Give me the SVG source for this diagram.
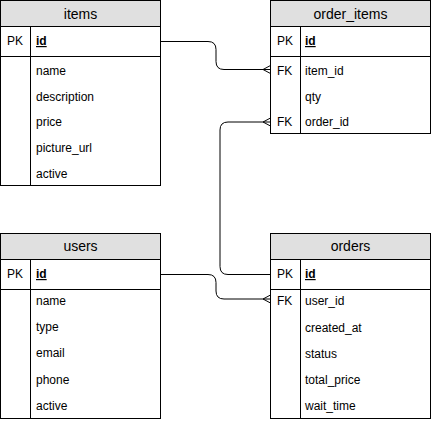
<svg xmlns="http://www.w3.org/2000/svg" width="431" height="423" viewBox="0 0 431 423">
<style>
.tbl{fill:#fff;stroke:#000;stroke-width:1}
.hdr{fill:#e0e0e0;stroke:#000;stroke-width:1}
.ln{stroke:#000;stroke-width:1;fill:none}
text{font-family:"Liberation Sans",Arial,Helvetica,sans-serif;font-size:12px;fill:#000}
.title{font-size:14px;text-anchor:middle}
.pk{font-weight:bold;text-decoration:underline}
.conn{stroke:#000;stroke-width:1;fill:none}
</style>
<rect width="431" height="423" fill="#fff"/>
<g id="items">
<rect class="tbl" x="0.5" y="0.5" width="160" height="185"/>
<rect class="hdr" x="0.5" y="0.5" width="160" height="26"/>
<line class="ln" x1="0.5" y1="56.5" x2="160.5" y2="56.5"/>
<line class="ln" x1="30.5" y1="26.5" x2="30.5" y2="185.5"/>
<text class="title" x="80.5" y="19">items</text>
<text x="7" y="45">PK</text>
<text x="36" y="45" class="pk">id</text>
<text x="36" y="75">name</text>
<text x="36" y="101">description</text>
<text x="36" y="126">price</text>
<text x="36" y="152">picture_url</text>
<text x="36" y="178">active</text>
</g>
<g id="order_items">
<rect class="tbl" x="270.5" y="0.5" width="160" height="133"/>
<rect class="hdr" x="270.5" y="0.5" width="160" height="26"/>
<line class="ln" x1="270.5" y1="56.5" x2="430.5" y2="56.5"/>
<line class="ln" x1="300.5" y1="26.5" x2="300.5" y2="133.5"/>
<text class="title" x="350.5" y="19">order_items</text>
<text x="277" y="45">PK</text>
<text x="305" y="45" class="pk">id</text>
<text x="277" y="75">FK</text>
<text x="305" y="75">item_id</text>
<text x="305" y="101">qty</text>
<text x="277" y="126">FK</text>
<text x="305" y="126">order_id</text>
</g>
<g id="users">
<rect class="tbl" x="0.5" y="233.5" width="160" height="185"/>
<rect class="hdr" x="0.5" y="233.5" width="160" height="26"/>
<line class="ln" x1="0.5" y1="289.5" x2="160.5" y2="289.5"/>
<line class="ln" x1="30.5" y1="259.5" x2="30.5" y2="418.5"/>
<text class="title" x="80.5" y="251">users</text>
<text x="7" y="278">PK</text>
<text x="36" y="278" class="pk">id</text>
<text x="36" y="305">name</text>
<text x="36" y="331">type</text>
<text x="36" y="357">email</text>
<text x="36" y="384">phone</text>
<text x="36" y="410">active</text>
</g>
<g id="orders">
<rect class="tbl" x="270.5" y="233.5" width="160" height="185"/>
<rect class="hdr" x="270.5" y="233.5" width="160" height="26"/>
<line class="ln" x1="270.5" y1="289.5" x2="430.5" y2="289.5"/>
<line class="ln" x1="300.5" y1="259.5" x2="300.5" y2="418.5"/>
<text class="title" x="350.5" y="251">orders</text>
<text x="277" y="278">PK</text>
<text x="305" y="278" class="pk">id</text>
<text x="277" y="305">FK</text>
<text x="305" y="305">user_id</text>
<text x="305" y="332">created_at</text>
<text x="305" y="358">status</text>
<text x="305" y="384">total_price</text>
<text x="305" y="410">wait_time</text>
</g>
<g id="connectors">
<path class="conn" d="M160.5 41.5 H208 Q216 41.5 216 49.5 V61.5 Q216 69.5 224 69.5 H270.5"/>
<path class="conn" d="M263 69.5 L270.5 65.5 M263 69.5 L270.5 73.5"/>
<path class="conn" d="M270.5 274.5 H228 Q220 274.5 220 266.5 V130 Q220 122 228 122 H270.5"/>
<path class="conn" d="M263 122 L270.5 118 M263 122 L270.5 126"/>
<path class="conn" d="M160.5 274.5 H208 Q216 274.5 216 282.5 V291 Q216 299 224 299 H270.5"/>
<path class="conn" d="M263 299 L270.5 295 M263 299 L270.5 303"/>
</g>
</svg>
